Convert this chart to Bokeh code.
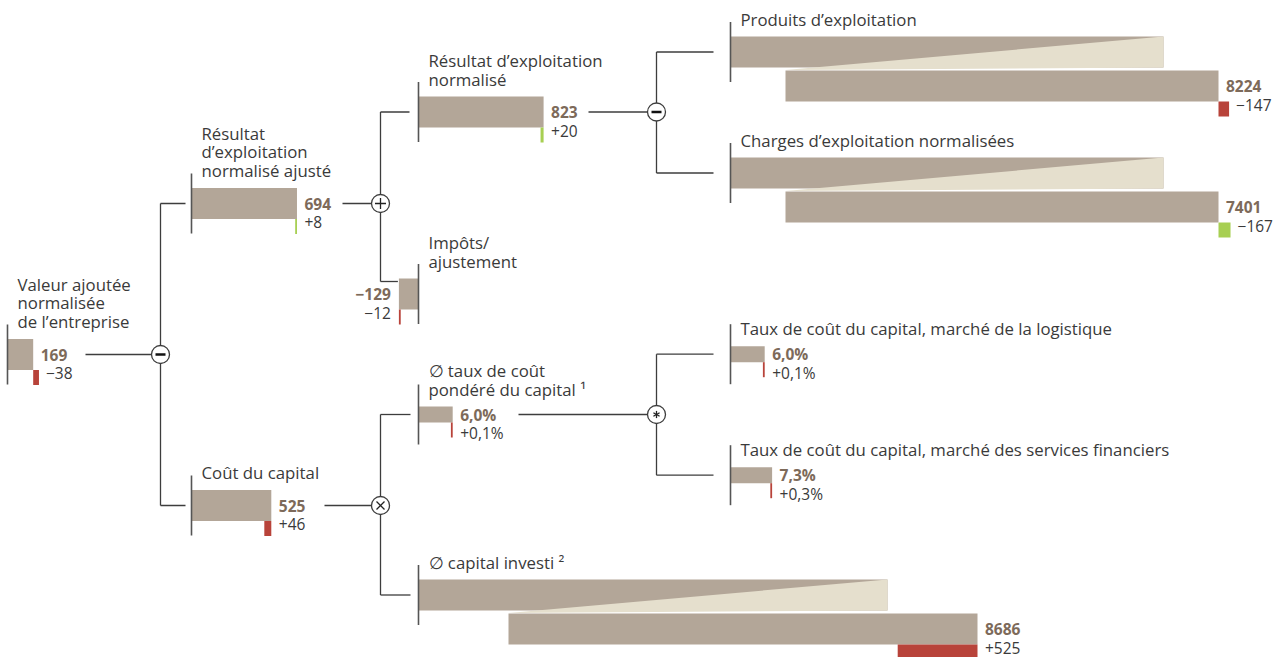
from bokeh.plotting import figure
from bokeh.core.properties import value
from bokeh.embed import file_html
from bokeh.resources import INLINE

FONT = "Open Sans"

# ---------------- data ----------------
names = ["eva", "ebit_adj", "cost_cap", "ebit", "tax", "wacc",
         "capital", "revenue", "opex", "wacc_log", "wacc_fin"]
titles = [
    ["Valeur ajoutée", "normalisée", "de l’entreprise"],
    ["Résultat", "d’exploitation", "normalisé ajusté"],
    ["Coût du capital"],
    ["Résultat d’exploitation", "normalisé"],
    ["Impôts/", "ajustement"],
    ["∅ taux de coût", "pondéré du capital ¹"],
    ["∅ capital investi ²"],
    ["Produits d’exploitation"],
    ["Charges d’exploitation normalisées"],
    ["Taux de coût du capital, marché de la logistique"],
    ["Taux de coût du capital, marché des services financiers"],
]
values = [169, 694, 525, 823, -129, 6.0, 8686, 8224, 7401, 6.0, 7.3]
deltas = [-38, 8, 46, 20, -12, 0.1, 525, -147, -167, 0.1, 0.3]
is_pct = [False, False, False, False, False, True, False, False, False, True, True]
# +1: an increase is favourable, -1: an increase is unfavourable
polarity = [1, 1, -1, 1, 1, -1, -1, 1, -1, -1, -1]

# ---------------- style ----------------
BAR = "#b3a698"
LIGHT = "#e5dfcd"
RED = "#b8433a"
GREEN = "#a7cf52"
VAL_COLOR = "#7d6a5a"
TXT_COLOR = "#3a3a3a"
LINE_COLOR = "#3d3d3d"
AXIS_COLOR = "#555555"

MONEY_SCALE = 0.152     # px per CHF mio
PCT_SCALE = 5.7         # px per percentage point
BAR_H, PCT_H, DELTA_H, GAP = 31, 16, 15, 3
DELTA_ROW = 18.5        # vertical offset of the change label below the value label

# node placement: axis x, bar centre y, optional broken-bar geometry
layout = {
    "eva":      dict(ax=7,   cy=354),
    "ebit_adj": dict(ax=191, cy=203),
    "cost_cap": dict(ax=191, cy=505),
    "ebit":     dict(ax=418, cy=111.5),
    "tax":      dict(ax=418, cy=293.5, link=281),
    "wacc":     dict(ax=418, cy=414),
    "capital":  dict(ax=418, cy=594.5, broken=(469, 90)),
    "revenue":  dict(ax=730, cy=51.5, broken=(433, 55), dscale=0.072),
    "opex":     dict(ax=730, cy=172.5, broken=(433, 55), dscale=0.072),
    "wacc_log": dict(ax=730, cy=353.7),
    "wacc_fin": dict(ax=730, cy=474.7),
}

# operator: symbol, parent, children, circle x, start of outgoing line, arm length
operators = [
    ("minus", "eva", ["ebit_adj", "cost_cap"], 160, 85, 25),
    ("plus", "ebit_adj", ["ebit", "tax"], 380, 342, 29),
    ("minus", "ebit", ["revenue", "opex"], 656, 588, 57),
    ("times", "cost_cap", ["wacc", "capital"], 380, 324, 30),
    ("star", "wacc", ["wacc_log", "wacc_fin"], 656, 518, 57),
]


def fmt_value(v, pct):
    if pct:
        s = f"{abs(v):.1f}".replace(".", ",") + "%"
    else:
        s = f"{abs(v):.0f}"
    return ("−" if v < 0 else "") + s


def fmt_delta(d, pct):
    if pct:
        s = f"{abs(d):.1f}".replace(".", ",") + "%"
    else:
        s = f"{abs(d):.0f}"
    return ("−" if d < 0 else "+") + s


p = figure(width=1281, height=657, x_range=(0, 1281), y_range=(657, 0),
           toolbar_location=None, output_backend="svg", min_border=0)
p.axis.visible = False
p.grid.visible = False
p.outline_line_color = None
p.background_fill_color = "white"
p.border_fill_color = "white"

bars = dict(left=[], right=[], top=[], bottom=[])
dbars = dict(left=[], right=[], top=[], bottom=[], color=[])
wedges = dict(xs=[], ys=[])
axes = dict(x0=[], y0=[], x1=[], y1=[])
lab = dict(x=[], y=[], text=[])
vals_l = dict(x=[], y=[], text=[])
vals_r = dict(x=[], y=[], text=[])
dlt_l = dict(x=[], y=[], text=[])
dlt_r = dict(x=[], y=[], text=[])

link_y = {}
left_edge = {}

for name, title, v, d, pct, pol in zip(names, titles, values, deltas, is_pct, polarity):
    L = layout[name]
    ax, cy = L["ax"], L["cy"]
    h = PCT_H if pct else BAR_H
    scale = PCT_SCALE if pct else L.get("dscale", MONEY_SCALE)
    top = cy - h / 2
    link_y[name] = L.get("link", cy)

    if "broken" in L:
        length, off = L["broken"]
        # upper segment with the scale-break wedge, lower segment carrying the end value
        bars["left"].append(ax); bars["right"].append(ax + length)
        bars["top"].append(top); bars["bottom"].append(top + h)
        low_top = top + h + GAP
        bars["left"].append(ax + off); bars["right"].append(ax + off + length)
        bars["top"].append(low_top); bars["bottom"].append(low_top + h)
        wedges["xs"].append([ax + off, ax + length, ax + length])
        wedges["ys"].append([low_top - 0.5, top, top + h])
        end = ax + off + length
        row_y = low_top + h / 2
        bottom = low_top + h
    else:
        end = ax + v * scale
        bars["left"].append(min(ax, end)); bars["right"].append(max(ax, end))
        bars["top"].append(top); bars["bottom"].append(top + h)
        row_y = cy
        bottom = top + h

    left_edge[name] = min(ax, end)

    # change versus previous year, spanning previous -> current value
    prev = end - d * scale
    x0, x1 = min(prev, end), max(prev, end)
    if x1 - x0 < 1.8:
        if prev <= end:
            x0 = x1 - 1.8
        else:
            x1 = x0 + 1.8
    good = d * pol > 0
    dbars["left"].append(x0); dbars["right"].append(x1)
    dbars["top"].append(bottom); dbars["bottom"].append(min(bottom + DELTA_H, 657))
    dbars["color"].append(GREEN if good else RED)

    # vertical base line
    axes["x0"].append(ax); axes["x1"].append(ax)
    axes["y0"].append(cy - 30); axes["y1"].append(cy + 30)

    # title lines above the bar
    n = len(title)
    for i, line in enumerate(title):
        lab["x"].append(ax + 10)
        lab["y"].append(top - 17.5 - (n - 1 - i) * 18.7)
        lab["text"].append(line)

    # value and change labels
    if v >= 0:
        tx = end + 7.5
        dx = max(tx, x1 + 7)
        vals_l["x"].append(tx); vals_l["y"].append(row_y); vals_l["text"].append(fmt_value(v, pct))
        dlt_l["x"].append(dx); dlt_l["y"].append(row_y + DELTA_ROW); dlt_l["text"].append(fmt_delta(d, pct))
    else:
        tx = end - 8
        vals_r["x"].append(tx); vals_r["y"].append(row_y); vals_r["text"].append(fmt_value(v, pct))
        dlt_r["x"].append(tx); dlt_r["y"].append(row_y + DELTA_ROW); dlt_r["text"].append(fmt_delta(d, pct))

# tree connectors
seg = dict(x0=[], y0=[], x1=[], y1=[])
circ = dict(x=[], y=[])
sym = dict(x0=[], y0=[], x1=[], y1=[])
sym_bold = dict(x0=[], y0=[], x1=[], y1=[])
R = 9
for op, parent, children, cx, out_x, arm in operators:
    py = link_y[parent]
    seg["x0"].append(out_x); seg["y0"].append(py); seg["x1"].append(cx - R); seg["y1"].append(py)
    ys = [link_y[c] for c in children]
    seg["x0"].append(cx); seg["y0"].append(min(ys)); seg["x1"].append(cx); seg["y1"].append(max(ys))
    for c in children:
        xe = min(cx + arm, left_edge[c] - 1)
        seg["x0"].append(cx); seg["y0"].append(link_y[c]); seg["x1"].append(xe); seg["y1"].append(link_y[c])
    circ["x"].append(cx); circ["y"].append(py)
    if op == "minus":
        sym_bold["x0"].append(cx - 5); sym_bold["y0"].append(py); sym_bold["x1"].append(cx + 5); sym_bold["y1"].append(py)
    elif op == "plus":
        for ddx, ddy in [(5.5, 0), (0, 5.5)]:
            sym["x0"].append(cx - ddx); sym["y0"].append(py - ddy); sym["x1"].append(cx + ddx); sym["y1"].append(py + ddy)
    elif op == "times":
        for ddx, ddy in [(4, 4), (4, -4)]:
            sym["x0"].append(cx - ddx); sym["y0"].append(py - ddy); sym["x1"].append(cx + ddx); sym["y1"].append(py + ddy)
    elif op == "star":
        for ddx, ddy in [(0, 3.6), (3.1, 1.8), (3.1, -1.8)]:
            sym["x0"].append(cx - ddx); sym["y0"].append(py - ddy); sym["x1"].append(cx + ddx); sym["y1"].append(py + ddy)

p.segment(x0="x0", y0="y0", x1="x1", y1="y1", source=seg, line_color=LINE_COLOR, line_width=1.3)
p.quad(left="left", right="right", top="top", bottom="bottom", source=bars,
       fill_color=BAR, line_color=None)
p.patches(xs="xs", ys="ys", source=wedges, fill_color=LIGHT, line_color=None)
p.quad(left="left", right="right", top="top", bottom="bottom", source=dbars,
       fill_color="color", line_color=None)
p.segment(x0="x0", y0="y0", x1="x1", y1="y1", source=axes, line_color=AXIS_COLOR, line_width=1.6)
p.circle(x="x", y="y", radius=R, source=circ, fill_color="white", line_color=LINE_COLOR, line_width=1.3)
p.segment(x0="x0", y0="y0", x1="x1", y1="y1", source=sym, line_color="#222222", line_width=1.3)
p.segment(x0="x0", y0="y0", x1="x1", y1="y1", source=sym_bold, line_color="#111111", line_width=2.6)

p.text(x="x", y="y", text="text", source=lab, text_font=value(FONT), text_font_size="16.8px",
       text_color=TXT_COLOR, text_baseline="middle", text_align="left")
p.text(x="x", y="y", text="text", source=vals_l, text_font=value(FONT), text_font_size="15.5px",
       text_font_style="bold", text_color=VAL_COLOR, text_baseline="middle", text_align="left")
p.text(x="x", y="y", text="text", source=vals_r, text_font=value(FONT), text_font_size="15.5px",
       text_font_style="bold", text_color=VAL_COLOR, text_baseline="middle", text_align="right")
p.text(x="x", y="y", text="text", source=dlt_l, text_font=value(FONT), text_font_size="15.5px",
       text_color=TXT_COLOR, text_baseline="middle", text_align="left")
p.text(x="x", y="y", text="text", source=dlt_r, text_font=value(FONT), text_font_size="15.5px",
       text_color=TXT_COLOR, text_baseline="middle", text_align="right")

open("out.html", "w").write(file_html(p, INLINE, title="Valeur ajoutée normalisée de l’entreprise"))
